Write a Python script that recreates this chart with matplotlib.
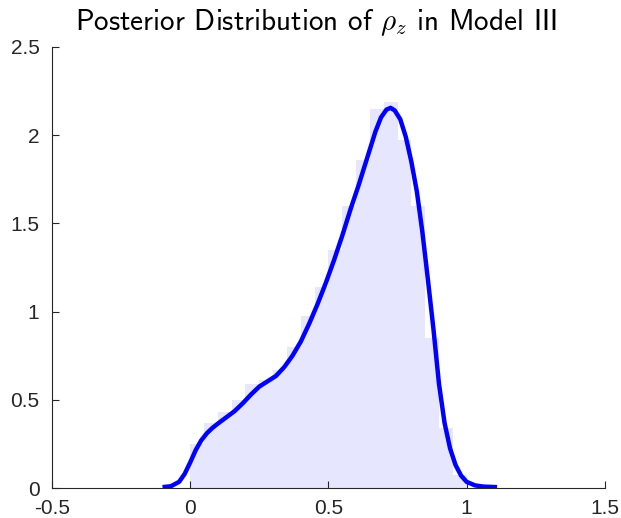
import numpy as np
import matplotlib
matplotlib.use("Agg")
import matplotlib.pyplot as plt

plt.rcParams['font.family'] = ['Liberation Sans', 'DejaVu Sans']
plt.rcParams['mathtext.fontset'] = 'cm'

# histogram of posterior draws (density), bins of width 0.05 from 0 to 1
bin_edges = [0.00, 0.05, 0.10, 0.15, 0.20, 0.25, 0.30, 0.35, 0.40, 0.45, 0.50,
             0.55, 0.60, 0.65, 0.70, 0.75, 0.80, 0.85, 0.90, 0.95, 1.00]
bin_density = [0.25, 0.37, 0.43, 0.50, 0.59, 0.61, 0.67, 0.80, 0.975, 1.14,
               1.35, 1.60, 1.86, 2.15, 2.19, 1.97, 1.60, 0.85, 0.34, 0.074]

# kernel density estimate of the same draws
kde_x = [-0.10, -0.07, -0.04, -0.02, 0.00, 0.02, 0.04, 0.06, 0.08, 0.10,
         0.13, 0.16, 0.19, 0.22, 0.25, 0.28, 0.31, 0.34, 0.37, 0.40,
         0.43, 0.46, 0.49, 0.52, 0.55, 0.58, 0.61, 0.64, 0.67, 0.69,
         0.71, 0.725, 0.74, 0.76, 0.78, 0.80, 0.82, 0.84, 0.86, 0.88,
         0.90, 0.92, 0.94, 0.96, 0.98, 1.00, 1.03, 1.06, 1.11]
kde_y = [0.005, 0.010, 0.035, 0.080, 0.145, 0.215, 0.270, 0.310, 0.340, 0.365,
         0.400, 0.435, 0.480, 0.530, 0.575, 0.605, 0.635, 0.685, 0.750, 0.830,
         0.930, 1.040, 1.160, 1.290, 1.430, 1.580, 1.720, 1.870, 2.020, 2.100,
         2.145, 2.155, 2.140, 2.090, 1.990, 1.850, 1.680, 1.450, 1.180, 0.900,
         0.590, 0.370, 0.225, 0.130, 0.070, 0.035, 0.015, 0.008, 0.005]

fig = plt.figure(figsize=(6.21, 5.18), dpi=100)
ax = fig.add_axes([0.0837, 0.0579, 0.8903, 0.8514])

widths = np.diff(bin_edges)
ax.bar(bin_edges[:-1], bin_density, width=widths, align='edge',
       color=(0.9, 0.9, 1.0), edgecolor='none', zorder=1)
ax.plot(kde_x, kde_y, color=(0, 0, 1), linewidth=3.2,
        solid_joinstyle='round', solid_capstyle='butt', zorder=3)

ax.set_xlim(-0.5, 1.5)
ax.set_ylim(0, 2.5)
ax.set_xticks([-0.5, 0, 0.5, 1, 1.5])
ax.set_xticklabels(['-0.5', '0', '0.5', '1', '1.5'])
ax.set_yticks([0, 0.5, 1, 1.5, 2, 2.5])
ax.set_yticklabels(['0', '0.5', '1', '1.5', '2', '2.5'])

for side in ['top', 'right']:
    ax.spines[side].set_visible(False)
for side in ['left', 'bottom']:
    ax.spines[side].set_linewidth(0.8)
    ax.spines[side].set_color('#262626')
ax.tick_params(direction='in', length=5, width=0.8, color='#262626',
               labelsize=15, labelcolor='#262626')
ax.tick_params(axis='x', pad=8)
ax.tick_params(axis='y', pad=9)

ax.set_title(r'Posterior Distribution of $\rho_z$ in Model III',
             fontfamily='cmss10', fontsize=21, pad=12, x=0.478)

fig.savefig('out.png', dpi=100)
